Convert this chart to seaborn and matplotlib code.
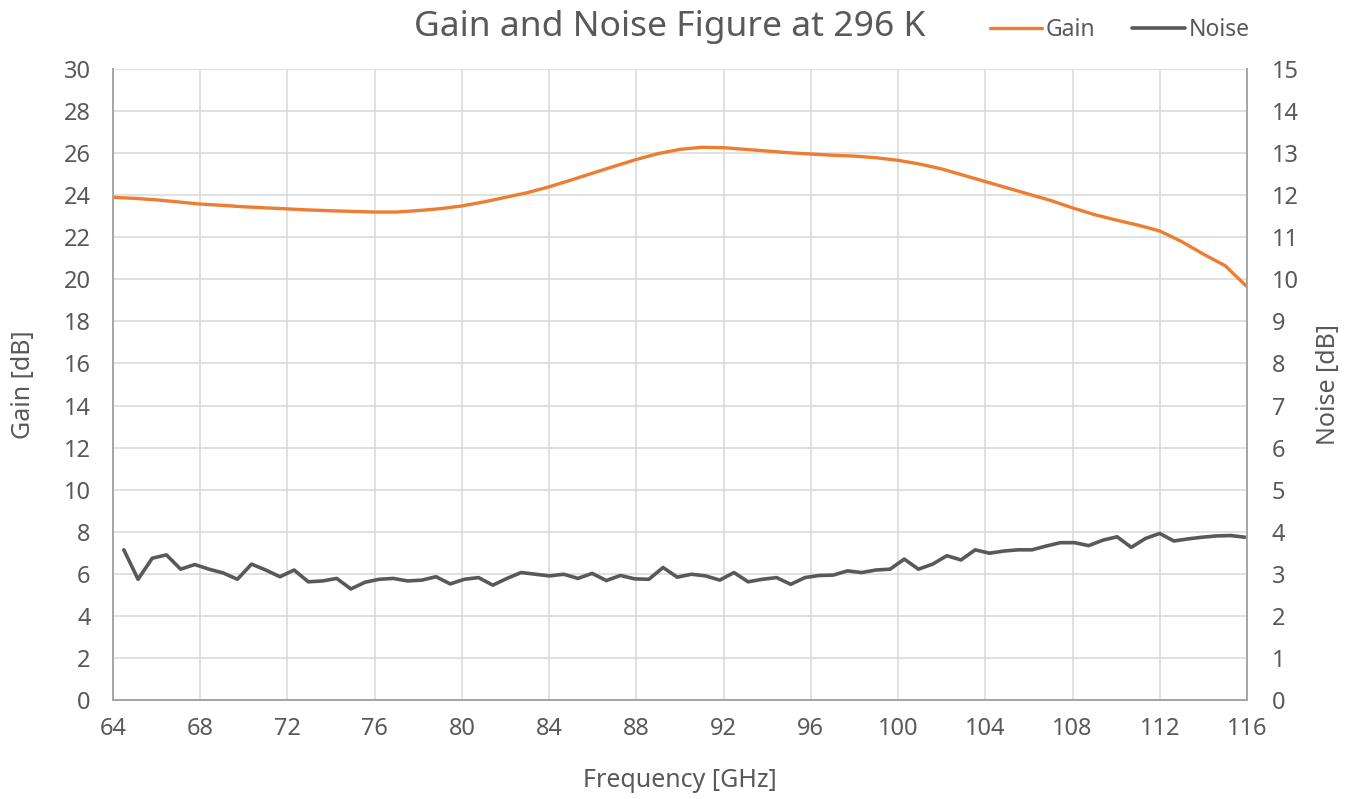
"""Gain i noise figure pojacavaca na 296 K (dvije y-ose)."""

import numpy as np
import pandas as pd
import matplotlib.pyplot as plt
import seaborn as sns

# Gain [dB], ocitano na svakih 1 GHz, 64..116 GHz
gain_freq = list(range(64, 117))
gain_db = [23.90, 23.85, 23.78, 23.68, 23.58, 23.52, 23.45, 23.40, 23.35, 23.30,
           23.26, 23.23, 23.20, 23.20, 23.27, 23.36, 23.49, 23.68, 23.90, 24.12,
           24.40, 24.72, 25.05, 25.38, 25.70, 25.98, 26.18, 26.28, 26.26, 26.18,
           26.10, 26.02, 25.96, 25.90, 25.86, 25.78, 25.66, 25.48, 25.25, 24.95,
           24.65, 24.35, 24.05, 23.75, 23.40, 23.08, 22.82, 22.58, 22.30, 21.80,
           21.20, 20.65, 19.65]

# Noise [dB], 80 tacaka izmedju 64.5 i 115.9 GHz
noise_db = [3.57, 2.87, 3.37, 3.45, 3.11, 3.22, 3.11, 3.02, 2.87, 3.23,
            3.09, 2.93, 3.09, 2.81, 2.83, 2.89, 2.64, 2.80, 2.87, 2.89,
            2.83, 2.85, 2.93, 2.76, 2.87, 2.91, 2.73, 2.89, 3.03, 2.99,
            2.95, 2.99, 2.89, 3.01, 2.84, 2.96, 2.88, 2.87, 3.15, 2.92,
            2.99, 2.95, 2.85, 3.03, 2.81, 2.87, 2.91, 2.75, 2.91, 2.96,
            2.97, 3.07, 3.03, 3.09, 3.11, 3.35, 3.11, 3.23, 3.43, 3.33,
            3.57, 3.49, 3.54, 3.57, 3.57, 3.66, 3.74, 3.74, 3.67, 3.80,
            3.88, 3.63, 3.84, 3.96, 3.78, 3.83, 3.87, 3.90, 3.91, 3.87]
noise_freq = np.linspace(64.5, 115.9, len(noise_db))

x_ticks = list(range(64, 117, 4))
gain_ticks = list(range(0, 31, 2))
noise_ticks = list(range(0, 16))

GAIN_COLOR = "#ED7D31"
NOISE_COLOR = "#595959"
TEXT_COLOR = "#595959"
GRID_COLOR = "#D9D9D9"
SPINE_COLOR = "#A6A6A6"

sns.set_style("white")
plt.rcParams["font.family"] = ["Noto Sans", "DejaVu Sans"]

df_gain = pd.DataFrame({"freq": gain_freq, "gain": gain_db})
df_noise = pd.DataFrame({"freq": noise_freq, "noise": noise_db})

fig = plt.figure(figsize=(13.51, 7.99), dpi=100)
ax = fig.add_axes([0.0836, 0.1239, 0.8394, 0.7897])
ax2 = ax.twinx()

sns.lineplot(data=df_gain, x="freq", y="gain", ax=ax, color=GAIN_COLOR,
             linewidth=2.4, label="Gain", legend=False)
sns.lineplot(data=df_noise, x="freq", y="noise", ax=ax2, color=NOISE_COLOR,
             linewidth=2.6, label="Noise", legend=False)

ax.set_xlim(64, 116)
ax.set_ylim(0, 30)
ax2.set_ylim(0, 15)
ax.set_xticks(x_ticks)
ax.set_yticks(gain_ticks)
ax2.set_yticks(noise_ticks)

ax.grid(True, color=GRID_COLOR, linewidth=1.1)
ax.set_axisbelow(True)

for a in (ax, ax2):
    a.tick_params(length=0, labelsize=17, labelcolor=TEXT_COLOR)
    for side in ("left", "right", "bottom"):
        a.spines[side].set_color(SPINE_COLOR)
        a.spines[side].set_linewidth(1.3)
    a.spines["top"].set_visible(False)
ax.tick_params(axis="y", pad=16)
ax2.tick_params(axis="y", pad=18)
ax.tick_params(axis="x", pad=12)

ax.set_xlabel("Frequency [GHz]", fontsize=18, color=TEXT_COLOR, labelpad=20)
ax.set_ylabel("Gain [dB]", fontsize=18, color=TEXT_COLOR, labelpad=20)
ax2.set_ylabel("Noise [dB]", fontsize=18, color=TEXT_COLOR, labelpad=12,
               rotation=90)

fig.text(0.496, 0.966, "Gain and Noise Figure at 296 K", fontsize=25.5,
         color=TEXT_COLOR, ha="center", va="center")

h1, l1 = ax.get_legend_handles_labels()
h2, l2 = ax2.get_legend_handles_labels()
fig.legend(h1 + h2, l1 + l2, loc="center right", bbox_to_anchor=(0.94, 0.962),
           ncol=2, frameon=False, fontsize=16.5, labelcolor=TEXT_COLOR,
           handlelength=2.3, handletextpad=0.15, columnspacing=1.6)

plt.savefig("out.png", dpi=100)
plt.close()
